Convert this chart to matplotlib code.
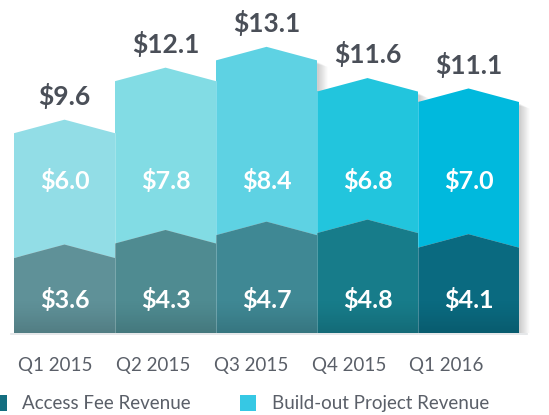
import numpy as np
import matplotlib
matplotlib.use("Agg")
import matplotlib.pyplot as plt
from matplotlib.patches import Polygon, Rectangle

quarters = ["Q1 2015", "Q2 2015", "Q3 2015", "Q4 2015", "Q1 2016"]
access_fee = [3.6, 4.3, 4.7, 4.8, 4.1]
build_out = [6.0, 7.8, 8.4, 6.8, 7.0]
totals = [9.6, 12.1, 13.1, 11.6, 11.1]

bottom_colors = ["#5f9198", "#4f8b91", "#3f8894", "#177c8a", "#0a6a80"]
top_colors = ["#92dde6", "#82dce4", "#5ed2e3", "#22c5dd", "#00b9dd"]
text_dark = "#4a4f58"
peak = 0.65  # height of the chevron tip, data units

plt.rcParams["font.family"] = ["Lato", "DejaVu Sans"]

fig = plt.figure(figsize=(5.49, 4.15), dpi=100)
base_px = 333
ax = fig.add_axes([0, (415 - base_px) / 415, 1, base_px / 415])
ax.axis("off")

# black overlay that fades in toward the base of each bar
shade = np.zeros((60, 1, 4))
shade[:, 0, 3] = np.linspace(0, 0.22, 60) ** 1.3

for i in range(len(quarters)):
    a = access_fee[i]
    t = access_fee[i] + build_out[i]
    l, r = i - 0.5, i + 0.5
    # soft shadow to the right
    for k in range(8):
        d = 0.02 + k * 0.012
        sh = Polygon([(l + d, 0), (r + d, 0), (r + d, t - 0.1 - k * 0.03),
                      (i + d, t + peak - 0.1 - k * 0.03), (l + d, t - 0.1 - k * 0.03)],
                     closed=True, fc="#000000", ec="none", alpha=0.025, zorder=1)
        ax.add_patch(sh)
    top = Polygon([(l, a), (i, a + peak), (r, a), (r, t), (i, t + peak), (l, t)],
                  closed=True, fc=top_colors[i], ec="none", zorder=3)
    bot = Polygon([(l, 0), (r, 0), (r, a), (i, a + peak), (l, a)],
                  closed=True, fc=bottom_colors[i], ec="none", zorder=3)
    ax.add_patch(top)
    ax.add_patch(bot)
    ax.imshow(shade, extent=(l, r, 0, 1.6), origin="upper",
              aspect="auto", interpolation="bilinear", zorder=4)
    # thin separator between bars
    if i > 0:
        ax.plot([l, l], [0, min(t, access_fee[i - 1] + build_out[i - 1])],
                color="#ffffff", lw=0.6, alpha=0.3, zorder=5)

    ax.text(i, t + peak + 1.15, "$%.1f" % totals[i], ha="center", va="center",
            fontsize=19, fontweight="bold", color=text_dark, zorder=6)
    ax.text(i, 7.3, "$%.1f" % build_out[i], ha="center", va="center",
            fontsize=18, fontweight="bold", color="white", zorder=6)
    ax.text(i, 1.6, "$%.1f" % access_fee[i], ha="center", va="center",
            fontsize=18, fontweight="bold", color="white", zorder=6)

ax.set_xlim(-0.5 - 14 / 101, -0.5 - 14 / 101 + 549 / 101)
ax.set_ylim(0, 16)

# baseline
fig.add_artist(plt.Line2D([0.02, 0.96], [(415 - 334) / 415] * 2, color="#e2e4e6", lw=1.2))

for i, q in enumerate(quarters):
    ax.text(-0.09 + 0.968 * i, -1.55, q, ha="center", va="center",
            fontsize=13.5, color="#5a5f68", clip_on=False)

# legend
ly = 1 - 403 / 415
fig.add_artist(Rectangle((-9 / 549, ly - 8 / 415), 16 / 549, 16 / 415,
                         transform=fig.transFigure, fc="#146e80", ec="none"))
fig.text(22 / 549, ly, "Access Fee Revenue", ha="left", va="center",
         fontsize=13.5, color="#5a5f68")
fig.add_artist(Rectangle((240 / 549, ly - 8 / 415), 16 / 549, 16 / 415,
                         transform=fig.transFigure, fc="#36c8e4", ec="none"))
fig.text(272 / 549, ly, "Build-out Project Revenue", ha="left", va="center",
         fontsize=13.5, color="#5a5f68")

fig.savefig("out.png", dpi=100)
